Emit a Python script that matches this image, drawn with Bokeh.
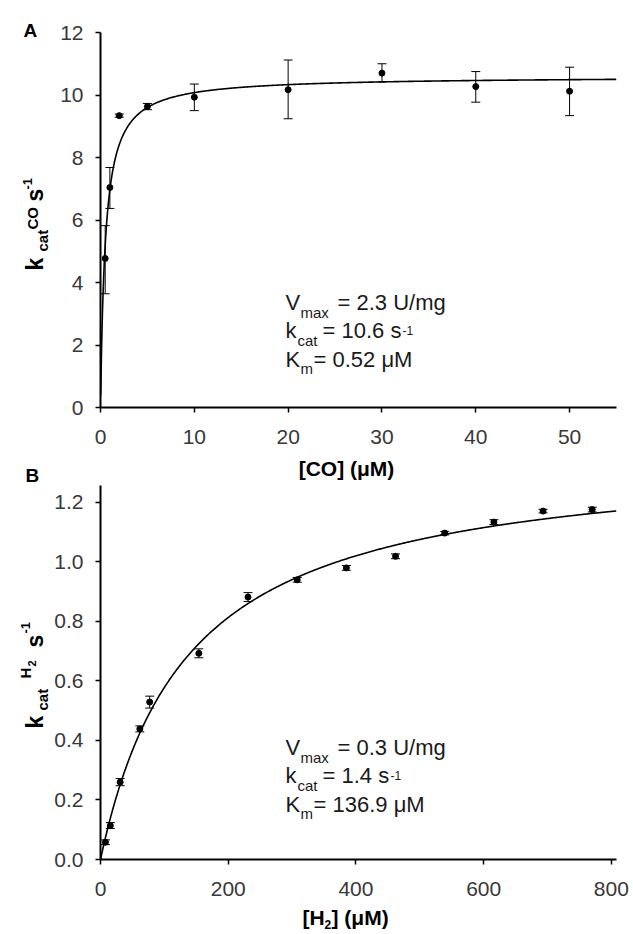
import numpy as np
from bokeh.plotting import figure
from bokeh.models import (Label, Whisker, TeeHead, ColumnDataSource, Range1d,
                          FixedTicker, PrintfTickFormatter)
from bokeh.layouts import column, row
from bokeh.embed import file_html
from bokeh.resources import INLINE

# ---------------- data ----------------
# Panel A: CO oxidation
co_conc = [0.5, 1, 2, 5, 10, 20, 30, 40, 50]
co_kcat = [4.77, 7.04, 9.34, 9.63, 9.93, 10.17, 10.70, 10.27, 10.12]
co_lower = [3.64, 6.37, 9.29, 9.53, 9.50, 9.24, 10.42, 9.77, 9.34]
co_upper = [5.82, 7.68, 9.39, 9.73, 10.35, 11.12, 11.00, 10.75, 10.89]
co_fit_kcat = 10.6
co_fit_km = 0.52

# Panel B: H2 oxidation
h2_conc = [7.7, 15.4, 30.8, 61.6, 77, 154, 231, 308, 385, 462, 539, 616, 693, 770]
h2_kcat = [0.058, 0.114, 0.260, 0.439, 0.529, 0.693, 0.882, 0.940, 0.980,
           1.019, 1.097, 1.134, 1.171, 1.176]
h2_err = [0.008, 0.010, 0.012, 0.010, 0.020, 0.015, 0.015, 0.008, 0.008,
          0.008, 0.006, 0.008, 0.006, 0.008]
h2_fit_kcat = 1.37
h2_fit_km = 136.9

co_xticks = [0, 10, 20, 30, 40, 50]
co_yticks = [0, 2, 4, 6, 8, 10, 12]
h2_xticks = [0, 200, 400, 600, 800]
h2_yticks = [0.0, 0.2, 0.4, 0.6, 0.8, 1.0, 1.2]

FONT = "Liberation Sans"
LW = 51          # left strip (panel letters + y titles)
PW = 633 - LW    # plot column width
R = np.pi / 2


def make_fig(height, xr, yr, borders, xticks, yticks, yfmt):
    p = figure(width=PW, height=height, output_backend="svg", toolbar_location=None,
               x_range=Range1d(*xr), y_range=Range1d(*yr),
               min_border_left=borders[0], min_border_right=borders[1],
               min_border_top=borders[2], min_border_bottom=borders[3])
    p.outline_line_color = None
    p.grid.visible = False
    p.background_fill_color = "white"
    p.border_fill_color = "white"
    for ax in (p.xaxis[0], p.yaxis[0]):
        ax.axis_line_color = "black"
        ax.axis_line_width = 2
        ax.major_tick_line_color = "black"
        ax.major_tick_line_width = 1.5
        ax.major_tick_out = 5
        ax.major_tick_in = 0
        ax.minor_tick_line_color = None
        ax.major_label_text_font = FONT
        ax.major_label_text_font_size = "21px"
        ax.major_label_text_color = "#383838"
    p.yaxis[0].major_label_standoff = 12
    p.xaxis[0].major_label_standoff = 17
    p.xaxis[0].ticker = FixedTicker(ticks=xticks)
    p.yaxis[0].ticker = FixedTicker(ticks=yticks)
    if yfmt:
        p.yaxis[0].formatter = PrintfTickFormatter(format=yfmt)
    return p


def blank(width, height):
    p = figure(width=width, height=height, output_backend="svg", toolbar_location=None,
               x_range=Range1d(0, width), y_range=Range1d(0, height),
               x_axis_type=None, y_axis_type=None,
               min_border_left=0, min_border_right=0, min_border_top=0,
               min_border_bottom=0)
    p.outline_line_color = None
    p.grid.visible = False
    p.background_fill_color = "white"
    p.border_fill_color = "white"
    return p


def txt(p, left, top, px, py, text, size, bold=False, angle=0.0, align="left",
        color="#1a1a1a"):
    # px, py: page position of the text baseline start; (left, top): page
    # position of figure p.  The label anchor sits at the glyph middle.
    if angle:
        px = px - 0.36 * size
    else:
        py = py - 0.36 * size
    p.add_layout(Label(x=px - left, y=py - top, x_units="canvas", y_units="canvas",
                       text=text, text_font=FONT,
                       text_font_size=f"{size}px",
                       text_font_style="bold" if bold else "normal",
                       angle=angle, text_align=align,
                       text_baseline="alphabetic", text_color=color))


def whiskers(p, src):
    p.add_layout(Whisker(source=src, base="x", lower="lo", upper="hi",
                         line_color="black", line_width=1,
                         upper_head=TeeHead(size=9, line_color="black", line_width=1),
                         lower_head=TeeHead(size=9, line_color="black", line_width=1)))


# ---------------- Panel A ----------------
xrA, yrA = (0, 55), (0, 12)
pA = make_fig(457, xrA, yrA, (99 - LW, 14, 32, 50), co_xticks, co_yticks, None)
xa = np.linspace(0.02, 55, 600)
pA.line(xa, co_fit_kcat * xa / (co_fit_km + xa), line_color="black", line_width=1.6)
srcA = ColumnDataSource(dict(x=co_conc, y=co_kcat, lo=co_lower, hi=co_upper))
whiskers(pA, srcA)
pA.scatter("x", "y", source=srcA, size=6, color="black")

# parameters (page coords)
TA = 0
txt(pA, LW, TA, 285, 310, "V", 22)
txt(pA, LW, TA, 300, 317, "max", 15)
txt(pA, LW, TA, 337, 310, "= 2.3 U/mg", 22)
txt(pA, LW, TA, 285, 338, "k", 22)
txt(pA, LW, TA, 297, 345, "cat", 15)
txt(pA, LW, TA, 322, 338, "= 10.6 s", 22)
txt(pA, LW, TA, 402, 334, "-1", 12)
txt(pA, LW, TA, 285, 367, "K", 22)
txt(pA, LW, TA, 300, 373, "m", 15)
txt(pA, LW, TA, 313, 367, "= 0.52 μM", 22)

XA = blank(PW, 23)
txt(XA, LW, 457, 346, 476, "[CO] (μM)", 21, bold=True, align="center", color="black")

# ---------------- Panel B ----------------
xrB, yrB = (0, 808), (0, 1.257)
pB = make_fig(425, xrB, yrB, (99 - LW, 17, 5, 46), h2_xticks, h2_yticks, "%.1f")
xb = np.linspace(0, 808, 600)
pB.line(xb, h2_fit_kcat * xb / (h2_fit_km + xb), line_color="black", line_width=1.6)
srcB = ColumnDataSource(dict(x=h2_conc, y=h2_kcat,
                             lo=[v - e for v, e in zip(h2_kcat, h2_err)],
                             hi=[v + e for v, e in zip(h2_kcat, h2_err)]))
whiskers(pB, srcB)
pB.scatter("x", "y", source=srcB, size=6, color="black")

TB = 480
txt(pB, LW, TB, 285, 755, "V", 22)
txt(pB, LW, TB, 300, 762, "max", 15)
txt(pB, LW, TB, 337, 755, "= 0.3 U/mg", 22)
txt(pB, LW, TB, 285, 783, "k", 22)
txt(pB, LW, TB, 297, 790, "cat", 15)
txt(pB, LW, TB, 322, 783, "= 1.4 s", 22)
txt(pB, LW, TB, 390, 779, "-1", 12)
txt(pB, LW, TB, 285, 812, "K", 22)
txt(pB, LW, TB, 300, 818, "m", 15)
txt(pB, LW, TB, 313, 812, "= 136.9 μM", 22)

XB = blank(PW, 29)
txt(XB, LW, 905, 302, 924.5, "[H", 21, bold=True, color="black")
txt(XB, LW, 905, 324, 928, "2", 12, bold=True, color="black")
txt(XB, LW, 905, 331, 924.5, "] (μM)", 21, bold=True, color="black")

# ---------------- left strip: panel letters and y titles ----------------
L = blank(LW, 934)
txt(L, 0, 0, 23, 37, "A", 19, bold=True, color="black")
txt(L, 0, 0, 43, 270, "k", 23, bold=True, angle=R, color="black")
txt(L, 0, 0, 47, 251, "cat", 15, bold=True, angle=R, color="black")
txt(L, 0, 0, 37, 229, "CO", 15, bold=True, angle=R, color="black")
txt(L, 0, 0, 43, 201, "s", 23, bold=True, angle=R, color="black")
txt(L, 0, 0, 32, 189, "-1", 13, bold=True, angle=R, color="black")

txt(L, 0, 0, 25, 482, "B", 19, bold=True, color="black")
txt(L, 0, 0, 43, 728, "k", 23, bold=True, angle=R, color="black")
txt(L, 0, 0, 47, 710, "cat", 15, bold=True, angle=R, color="black")
txt(L, 0, 0, 30, 678, "H", 15, bold=True, angle=R, color="black")
txt(L, 0, 0, 35, 666, "2", 11, bold=True, angle=R, color="black")
txt(L, 0, 0, 43, 647, "s", 23, bold=True, angle=R, color="black")
txt(L, 0, 0, 30, 633, "-1", 13, bold=True, angle=R, color="black")

layout = row(L, column(pA, XA, pB, XB, spacing=0), spacing=0)
open("out.html", "w").write(file_html(layout, INLINE))
